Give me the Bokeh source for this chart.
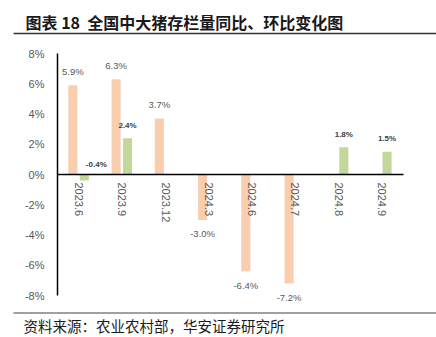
from bokeh.plotting import figure
from bokeh.models import (ColumnDataSource, Range1d, FixedTicker,
                          PrintfTickFormatter, LabelSet, Label, BoxAnnotation)
from bokeh.core.properties import value
from bokeh.transform import dodge
from bokeh.embed import file_html
from bokeh.resources import INLINE

categories = ["2023.6", "2023.9", "2023.12", "2024.3", "2024.6", "2024.7", "2024.8", "2024.9"]
yoy = [5.9, 6.3, 3.7, -3.0, -6.4, -7.2, None, None]   # 同比
mom = [-0.4, 2.4, None, None, None, None, 1.8, 1.5]   # 环比
y_ticks = [-8, -6, -4, -2, 0, 2, 4, 6, 8]
title_text = "图表\u00a018\u00a0\u00a0全国中大猪存栏量同比、环比变化图"
source_text = "资料来源：农业农村部，华安证券研究所"

ORANGE = "#F9CEAE"
GREEN = "#C4D79B"
TXT = "#595959"

W, H = 436, 337
# pixel frame of the plotting area within the canvas
PL, PR, PT, PB = 57, 403, 53, 295
n = len(categories)
ymin, ymax = y_ticks[0], y_ticks[-1]
sx = (PR - PL) / n                 # px per category
sy = (PB - PT) / (ymax - ymin)     # px per percent
x_start = -0.5 - PL / sx
x_end = n - 0.5 + (W - PR) / sx
y_end = ymax + PT / sy
y_start = ymin - (H - PB) / sy

p = figure(width=W, height=H, x_range=Range1d(x_start, x_end),
           y_range=Range1d(y_start, y_end), output_backend="svg", toolbar_location=None,
           min_border=0)
p.outline_line_color = None
p.grid.visible = False
p.background_fill_color = "white"
p.border_fill_color = "white"

idx = list(range(n))
ysrc = ColumnDataSource(dict(
    i=[i for i, v in zip(idx, yoy) if v is not None],
    v=[v for v in yoy if v is not None]))
ysrc.data["t"] = [f"{v:.1f}%" for v in ysrc.data["v"]]
ysrc.data["yo"] = [14 if v > 0 else -14 for v in ysrc.data["v"]]

msrc = ColumnDataSource(dict(
    i=[i for i, v in zip(idx, mom) if v is not None],
    v=[v for v in mom if v is not None]))
msrc.data["t"] = [f"{v:.1f}%" for v in msrc.data["v"]]
msrc.data["ly"] = [v if v > 0 else 0 for v in msrc.data["v"]]
msrc.data["yo"] = [13 if v > 0 else 10 for v in msrc.data["v"]]
msrc.data["xo"] = [0 if v > 0 else 12 for v in msrc.data["v"]]

OY, OM, BW = -0.145, 0.12, 0.21
p.vbar(x=dodge("i", OY), top="v", bottom=0, width=BW,
       source=ysrc, fill_color=ORANGE, line_color=None)
p.vbar(x=dodge("i", OM), top="v", bottom=0, width=BW,
       source=msrc, fill_color=GREEN, line_color=None)

p.add_layout(LabelSet(x=dodge("i", OY), y="v", text="t", y_offset="yo",
                      source=ysrc, text_align="center", text_baseline="middle",
                      text_font=value("Liberation Sans"), text_font_size="9.5px",
                      text_color=TXT))
p.add_layout(LabelSet(x=dodge("i", OM), y="ly", text="t", y_offset="yo",
                      x_offset="xo", source=msrc, text_align="center", text_baseline="middle",
                      text_font=value("Liberation Sans"), text_font_size="8px",
                      text_font_style="bold", text_color="#404040"))

# axes
ya = p.yaxis[0]
ya.fixed_location = -0.5
ya.bounds = (ymin, ymax)
ya.ticker = FixedTicker(ticks=y_ticks)
ya.formatter = PrintfTickFormatter(format="%d%%")
ya.major_tick_line_color = None
ya.minor_tick_line_color = None
ya.major_tick_out = 0
ya.major_tick_in = 0
ya.major_label_standoff = 13
ya.axis_line_color = "black"
ya.axis_line_width = 1.5
ya.major_label_text_font = "Liberation Sans"
ya.major_label_text_font_size = "11px"
ya.major_label_text_color = TXT

xa = p.xaxis[0]
xa.fixed_location = 0
xa.bounds = (-0.5, n - 0.5)
xa.ticker = FixedTicker(ticks=idx)
xa.major_label_overrides = {i: c for i, c in zip(idx, categories)}
xa.major_tick_line_color = None
xa.minor_tick_line_color = None
xa.major_tick_out = 0
xa.major_tick_in = 0
xa.major_label_standoff = 8
xa.major_label_orientation = "vertical"
xa.axis_line_color = "black"
xa.axis_line_width = 1.5
xa.major_label_text_font = "Liberation Sans"
xa.major_label_text_font_size = "11px"
xa.major_label_text_color = TXT

# title, source and rules (screen units: from canvas bottom-left)
p.add_layout(Label(x=25, y=H - 21, x_units="screen", y_units="screen",
                   text=title_text, text_font="Noto Sans CJK SC", text_font_size="16px",
                   text_font_style="bold", text_color="#1a1a1a", text_baseline="middle"))
p.add_layout(Label(x=23, y=H - 325, x_units="screen", y_units="screen",
                   text=source_text, text_font="Noto Sans CJK SC", text_font_size="14.5px",
                   text_color="#1a1a1a", text_baseline="middle"))
p.add_layout(BoxAnnotation(left=13, right=W, bottom=H - 33.75, top=H - 32.25,
                           left_units="screen", right_units="screen",
                           bottom_units="screen", top_units="screen",
                           fill_color="#333333", fill_alpha=1, line_color=None))
p.add_layout(BoxAnnotation(left=13, right=W, bottom=H - 313.25, top=H - 311.75,
                           left_units="screen", right_units="screen",
                           bottom_units="screen", top_units="screen",
                           fill_color="#808080", fill_alpha=1, line_color=None))

open("out.html", "w").write(file_html(p, INLINE))
